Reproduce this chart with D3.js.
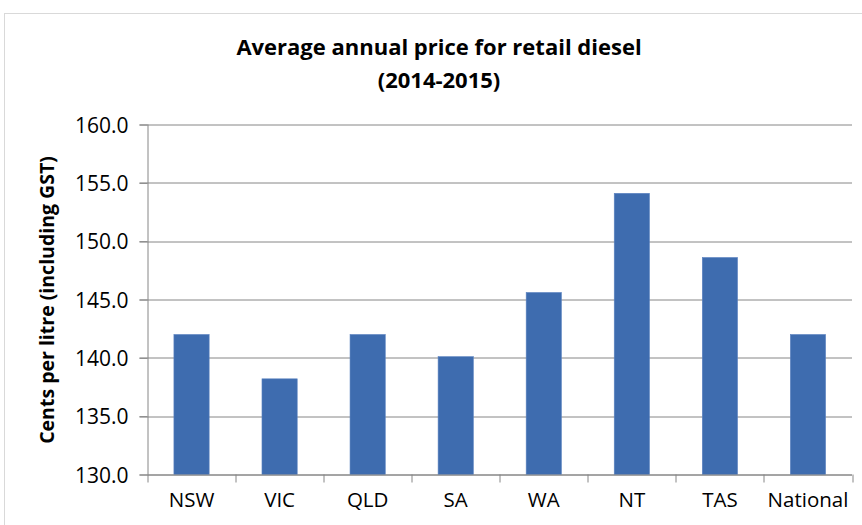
<!DOCTYPE html>
<html lang="en">
<head>
    <meta charset="UTF-8">
    <title>Average annual price for retail diesel</title>
    <style>
        body {
            margin: 0;
            padding: 0;
            background-color: #ffffff;
        }
        svg text {
            font-family: "Open Sans", "Noto Sans", sans-serif;
            fill: #000000;
        }
        .grid line {
            stroke: #868686;
            stroke-width: 1;
        }
    </style>
</head>
<body>
    <svg id="chart"></svg>

    <script src="https://d3js.org/d3.v7.min.js"></script>
    <script>
        // Chart data
        var regions = ['NSW', 'VIC', 'QLD', 'SA', 'WA', 'NT', 'TAS', 'National'];
        var prices = [142.0, 138.2, 142.0, 140.1, 145.6, 154.1, 148.6, 142.0];
        var yTicks = [130, 135, 140, 145, 150, 155, 160];

        var dataset = regions.map(function(r, i) { return { region: r, price: prices[i] }; });

        var totalWidth = 862, totalHeight = 525;
        var margin = { top: 124.5, right: 10, bottom: 50.5, left: 147.5 };
        var width = 852 - margin.left;
        var height = 474.5 - margin.top;

        var root = d3.select('#chart')
            .attr('width', totalWidth)
            .attr('height', totalHeight);

        // Outer chart border
        root.append('rect')
            .attr('x', 4.5)
            .attr('y', 13.5)
            .attr('width', 1000)
            .attr('height', 1000)
            .attr('fill', 'none')
            .attr('stroke', '#d9d9d9')
            .attr('stroke-width', 1);

        var svg = root.append('g')
            .attr('transform', 'translate(' + margin.left + ',' + margin.top + ')');

        var xScale = d3.scaleBand()
            .domain(regions)
            .range([0, width])
            .paddingInner(0.6)
            .paddingOuter(0.3);

        var yScale = d3.scaleLinear()
            .domain([130, 160])
            .range([height, 0]);

        // Gridlines
        svg.append('g')
            .attr('class', 'grid')
            .selectAll('line')
            .data(yTicks)
            .enter()
            .append('line')
            .attr('x1', -8)
            .attr('x2', width)
            .attr('y1', d => Math.round(yScale(d)) + 0.5)
            .attr('y2', d => Math.round(yScale(d)) + 0.5);

        // Bars
        svg.selectAll('rect.bar')
            .data(dataset)
            .enter()
            .append('rect')
            .attr('class', 'bar')
            .attr('x', d => xScale(d.region))
            .attr('y', d => yScale(d.price))
            .attr('width', xScale.bandwidth())
            .attr('height', d => height - yScale(d.price))
            .attr('fill', '#3e6caf')
            .attr('stroke', '#5b82c0')
            .attr('stroke-width', 0.6);

        // Y axis
        var yAxis = svg.append('g')
            .call(d3.axisLeft(yScale).tickValues(yTicks).tickFormat(d3.format('.1f')).tickSize(8).tickPadding(11));
        yAxis.select('.domain').attr('stroke', '#868686').attr('d', 'M0.5,0V' + height);
        yAxis.selectAll('.tick line').attr('stroke', '#868686');
        yAxis.selectAll('.tick text')
            .style('font-size', '21px')
            .attr('dy', '0.36em');

        // X axis, ticks at band boundaries
        var xAxis = svg.append('g')
            .attr('transform', 'translate(0,' + height + ')');
        xAxis.append('line')
            .attr('x1', 0)
            .attr('x2', width)
            .attr('y1', 0.5)
            .attr('y2', 0.5)
            .attr('stroke', '#868686');
        xAxis.selectAll('line.xtick')
            .data(d3.range(regions.length + 1))
            .enter()
            .append('line')
            .attr('class', 'xtick')
            .attr('x1', i => Math.round(i * width / regions.length) + 0.5)
            .attr('x2', i => Math.round(i * width / regions.length) + 0.5)
            .attr('y1', 0)
            .attr('y2', 8)
            .attr('stroke', '#868686');
        xAxis.selectAll('text.xlabel')
            .data(regions)
            .enter()
            .append('text')
            .attr('class', 'xlabel')
            .attr('x', d => xScale(d) + xScale.bandwidth() / 2)
            .attr('y', 32)
            .style('text-anchor', 'middle')
            .style('font-size', '20.5px')
            .text(d => d);

        // Title
        root.append('text')
            .attr('x', 439)
            .attr('y', 55)
            .style('text-anchor', 'middle')
            .style('font-size', '22px')
            .style('font-weight', 'bold')
            .text('Average annual  price for retail diesel');
        root.append('text')
            .attr('x', 439)
            .attr('y', 88)
            .style('text-anchor', 'middle')
            .style('font-size', '22px')
            .style('font-weight', 'bold')
            .text('(2014-2015)');

        // Y axis title
        root.append('text')
            .attr('transform', 'translate(54,300) rotate(-90)')
            .style('text-anchor', 'middle')
            .style('font-size', '19.5px')
            .style('font-weight', 'bold')
            .text('Cents per litre (including GST)');
    </script>
</body>
</html>
